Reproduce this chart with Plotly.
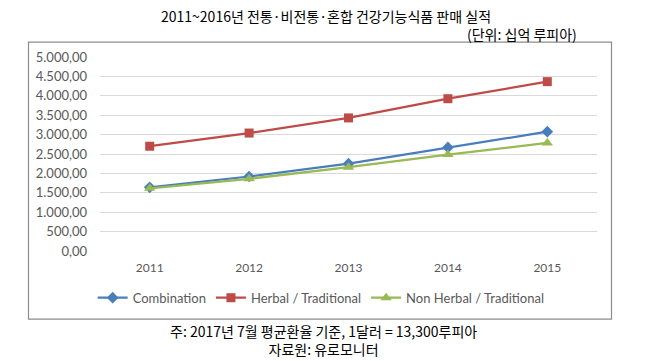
import plotly.graph_objects as go

years = ["2011", "2012", "2013", "2014", "2015"]
combination = [1640, 1920, 2250, 2670, 3075]
herbal = [2700, 3040, 3430, 3925, 4365]
non_herbal = [1615, 1860, 2160, 2485, 2785]
y_tickvals = [0, 500, 1000, 1500, 2000, 2500, 3000, 3500, 4000, 4500, 5000]
y_ticktext = ["0,00", "500,00", "1.000,00", "1.500,00", "2.000,00", "2.500,00",
              "3.000,00", "3.500,00", "4.000,00", "4.500,00", "5.000,00"]

title = "2011~2016년 전통·비전통·혼합 건강기능식품 판매 실적"
unit = "(단위: 십억 루피아)"
note1 = "주: 2017년 7월 평균환율 기준, 1달러 = 13,300루피아"
note2 = "자료원: 유로모니터"

KFONT = "Noto Sans CJK KR"
LFONT = "Lato"

fig = go.Figure()
fig.add_trace(go.Scatter(x=years, y=combination, name="Combination", mode="lines+markers",
                         line=dict(color="#4A7EBB", width=2.25),
                         marker=dict(symbol="diamond", size=9, color="#4A7EBB")))
fig.add_trace(go.Scatter(x=years, y=herbal, name="Herbal / Traditional", mode="lines+markers",
                         line=dict(color="#BE4B48", width=2.25),
                         marker=dict(symbol="square", size=9, color="#BE4B48")))
fig.add_trace(go.Scatter(x=years, y=non_herbal, name="Non Herbal / Traditional", mode="lines+markers",
                         line=dict(color="#98B954", width=2.25),
                         marker=dict(symbol="triangle-up", size=10, color="#98B954")))

L, R, T, B = 100, 597, 57.3, 251.3
W, H = 645, 361
pw, ph = R - L, B - T

def px_x(x):
    return (x - L) / pw

def px_y(y):
    return (B - y) / ph

fig.update_layout(
    width=W, height=H,
    margin=dict(l=L, r=W - R, t=T, b=H - B, pad=0),
    paper_bgcolor="white", plot_bgcolor="white",
    showlegend=True,
    legend=dict(orientation="h", x=0.445, xanchor="center", y=px_y(298), yanchor="middle",
                font=dict(family=LFONT, size=13, color="#595959"),
                itemwidth=30, bgcolor="rgba(0,0,0,0)"),
    xaxis=dict(type="category", range=[-0.5, 4.5], showgrid=False, showline=False,
               ticks="", tickfont=dict(family=LFONT, size=12, color="#595959"),
               ticklabelstandoff=8),
    yaxis=dict(range=[0, 5000], tickvals=y_tickvals, ticktext=y_ticktext,
               showgrid=True, gridcolor="#D9D9D9", gridwidth=1, zeroline=False,
               showline=False, ticks="",
               tickfont=dict(family=LFONT, size=13, color="#595959"),
               ticklabelstandoff=12),
    shapes=[dict(type="rect", xref="paper", yref="paper",
                 x0=px_x(28.5), x1=px_x(611.5), y0=px_y(319.5), y1=px_y(42.5),
                 line=dict(color="#8C8C8C", width=1.2), fillcolor="rgba(0,0,0,0)", layer="below")],
    annotations=[
        dict(text=title, xref="paper", yref="paper", x=px_x(326), y=px_y(16),
             xanchor="center", yanchor="middle", showarrow=False,
             font=dict(family=KFONT, size=14, color="black")),
        dict(text=unit, xref="paper", yref="paper", x=px_x(579), y=px_y(34),
             xanchor="right", yanchor="middle", showarrow=False,
             font=dict(family=KFONT, size=14, color="black")),
        dict(text=note1 + "<br>" + note2, xref="paper", yref="paper", x=px_x(323), y=px_y(340),
             xanchor="center", yanchor="middle", showarrow=False, align="center",
             font=dict(family=KFONT, size=14, color="black")),
    ],
)

fig.write_html("out.html", config={"displayModeBar": False},
               post_script="document.body.style.margin='0';document.body.style.overflow='hidden';")
